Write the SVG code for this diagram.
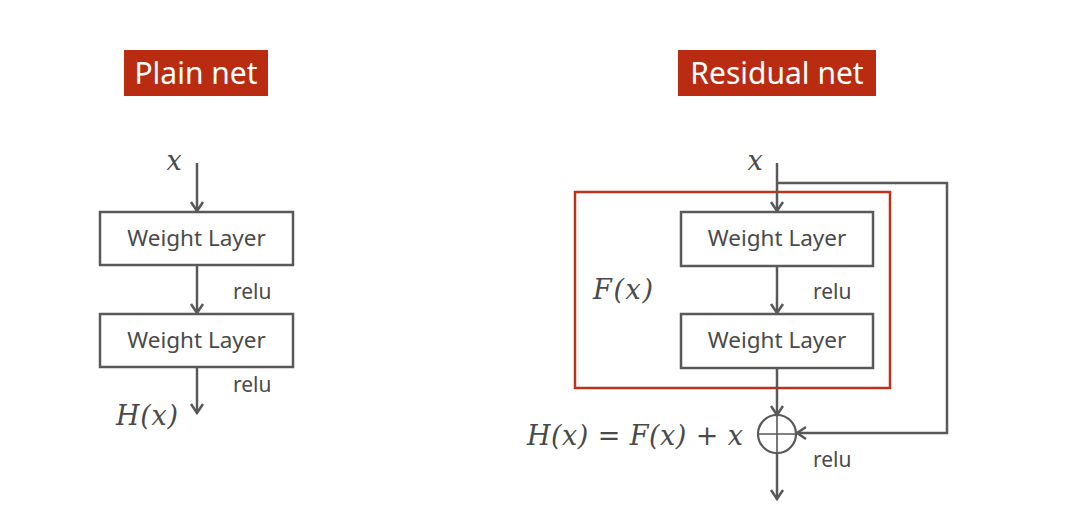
<svg xmlns="http://www.w3.org/2000/svg" width="1071" height="518" viewBox="0 0 1071 518">
<style>
.line{stroke:#595959;stroke-width:2.5;fill:none}
.box{fill:#fff;stroke:#595959;stroke-width:2.5}
.lbl{font-family:"Noto Sans","Open Sans",sans-serif;font-size:21px;fill:#4a4a4a}
.wl{font-size:22.5px}
.title{font-family:"Noto Sans","Open Sans",sans-serif;font-size:30px;fill:#fff}
.math{font-family:"DejaVu Serif","Liberation Serif",serif;font-style:italic;font-size:27px;fill:#4a4a4a}
.tb{fill:#B92C12}
</style>
<defs>
<marker id="arr" markerUnits="userSpaceOnUse" markerWidth="20" markerHeight="20" viewBox="-12 -10 14 20" refX="0" refY="0" orient="auto">
<path d="M-9,-6 L0,0 L-9,6" fill="none" stroke="#595959" stroke-width="2.5"/>
</marker>
</defs>
<g id="title-plain"><rect class="tb" x="124" y="50" width="144" height="46"/><text class="title" x="196" y="84" text-anchor="middle">Plain net</text></g>
<g id="title-residual"><rect class="tb" x="678" y="50" width="198" height="46"/><text class="title" x="777" y="84" text-anchor="middle">Residual net</text></g>
<g id="plain-x"><text class="math" x="174" y="170" text-anchor="middle">x</text></g>
<g id="plain-w1"><rect class="box" x="100" y="212" width="193" height="53"/><text class="lbl wl" x="196.5" y="246" text-anchor="middle">Weight Layer</text></g>
<g id="plain-w2"><rect class="box" x="100" y="314" width="193" height="53"/><text class="lbl wl" x="196.5" y="348" text-anchor="middle">Weight Layer</text></g>
<g id="plain-labels">
<text class="lbl" x="233" y="299">relu</text>
<text class="lbl" x="233" y="392">relu</text>
<text class="math" x="116" y="425" textLength="62" lengthAdjust="spacing">H(x)</text>
</g>
<g id="residual-block"><rect x="575" y="192" width="315" height="196" fill="none" stroke="#C0301A" stroke-width="2.5"/><text class="math" x="593" y="299" textLength="60" lengthAdjust="spacing">F(x)</text></g>
<g id="res-x"><text class="math" x="755" y="170" text-anchor="middle">x</text></g>
<g id="res-w1"><rect class="box" x="681" y="212" width="192" height="54"/><text class="lbl wl" x="777" y="246" text-anchor="middle">Weight Layer</text></g>
<g id="res-w2"><rect class="box" x="681" y="314" width="192" height="54"/><text class="lbl wl" x="777" y="348" text-anchor="middle">Weight Layer</text></g>
<g id="sum"><circle cx="777" cy="434" r="19" fill="none" stroke="#595959" stroke-width="2.2"/><path d="M758,434 H796 M777,415 V453" stroke="#595959" stroke-width="1.6"/></g>
<g id="res-labels">
<text class="lbl" x="813" y="467">relu</text>
<text class="lbl" x="813" y="299">relu</text>
<text class="math" x="527" y="445" textLength="216" lengthAdjust="spacing">H(x) = F(x) + x</text>
</g>
<g id="connectors">
<path class="line" d="M197,163 V211" marker-end="url(#arr)"/>
<path class="line" d="M197,265 V313" marker-end="url(#arr)"/>
<path class="line" d="M197,367 V413" marker-end="url(#arr)"/>
<path class="line" d="M777,163 V211" marker-end="url(#arr)"/>
<path class="line" d="M777,266 V313" marker-end="url(#arr)"/>
<path class="line" d="M777,368 V415" marker-end="url(#arr)"/>
<path class="line" d="M777,453 V499" marker-end="url(#arr)"/>
<path class="line" d="M777,183 H947 V433 H797" marker-end="url(#arr)"/>
</g>
</svg>
